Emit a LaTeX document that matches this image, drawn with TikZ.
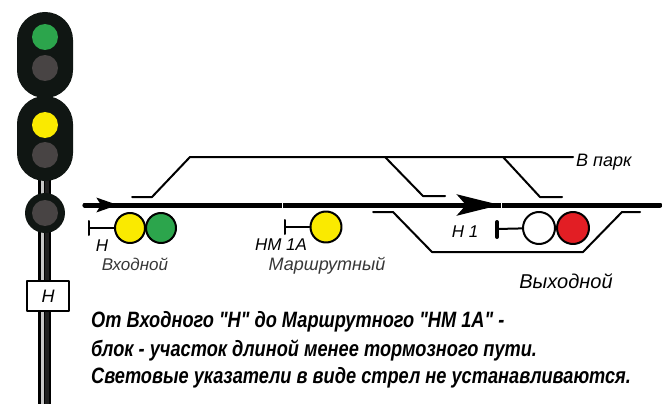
\documentclass[tikz,border=0pt]{standalone}
\usepackage{fontspec}
\setmainfont{Liberation Sans}
\newfontfamily\narrowfont[FakeStretch=0.82]{Liberation Sans}
\usepackage{tikz}
\usetikzlibrary{arrows,arrows.meta}
\definecolor{headblack}{RGB}{16,22,19}
\definecolor{lampoff}{RGB}{72,68,68}
\definecolor{lampgreen}{RGB}{44,165,76}
\definecolor{lampyellow}{RGB}{250,234,0}
\definecolor{lampred}{RGB}{226,30,36}
\definecolor{labelgray}{RGB}{55,55,55}
\tikzset{
  track/.style={line width=5pt},
  siding/.style={line width=2pt},
  lamp/.style={circle,draw=black,line width=2pt,minimum size=30pt,inner sep=0pt},
  mastlamp/.style={circle,fill=lampoff,minimum size=26pt,inner sep=0pt},
  lbl/.style={font=\itshape\fontsize{17}{17}\selectfont,inner sep=0pt},
  note/.style={anchor=west,inner sep=0pt,font=\narrowfont\bfseries\itshape\fontsize{22.2}{22}\selectfont}
}

\begin{document}
\begin{tikzpicture}[line cap=round,line join=round,>=triangle 45,x=1pt,y=-1pt]
\useasboundingbox (0,0) rectangle (662,404);
\fill[black] (38,175) rectangle (51,404);
\fill[gray!45] (40.5,175) rectangle (44,404);
\fill[gray!25!black] (45,175) rectangle (49,404);
\fill[headblack,rounded corners=27.9pt] (17,12) rectangle (73,98);
\fill[headblack,rounded corners=27.9pt] (17,96) rectangle (73,181);
\node[mastlamp,fill=lampgreen] (mg) at (45,37) {};
\node[mastlamp] (mo1) at (45,68) {};
\node[mastlamp,fill=lampyellow] (my) at (45,125) {};
\node[mastlamp] (mo2) at (45,155) {};
\node[circle,fill=headblack,minimum size=40pt,inner sep=0pt] (mhead) at (45,213) {};
\node[mastlamp] (mo3) at (45,213) {};
\node[draw,line width=2.5pt,fill=white,minimum width=42pt,minimum height=30pt,inner sep=0pt,font=\itshape\fontsize{18}{18}\selectfont] (plate) at (48,296) {Н};
\draw[siding] (132,197) -- (152,197) -- (190,157) -- (573,157);
\node[lbl,anchor=west,font=\itshape\fontsize{18}{18}\selectfont] (park) at (576,162) {В парк};
\draw[siding] (385,157) -- (423,196) -- (445,196);
\draw[siding] (503,157) -- (540,197) -- (562,197);
\draw[siding] (373,212) -- (393,212) -- (432,252) -- (583,252) -- (622,212) -- (640,212);
\draw[track] (85,205) -- (660,205);
\draw[track,-{Stealth[length=21pt,width=14pt,inset=4pt]}] (85,205) -- (118,205);
\draw[track,-{Stealth[length=43pt,width=21pt,inset=9pt]}] (440,205) -- (500,205);
\draw[white,line width=1pt,line cap=butt] (282,201) -- (282,209);
\draw[white,line width=1pt,line cap=butt] (501,201) -- (501,209);
\node[lamp,fill=lampyellow] (vh1) at (130,228) {};
\node[lamp,fill=lampgreen] (vh2) at (161,228) {};
\coordinate (vhbar) at (89,228);
\draw[line width=2pt] (89,221) -- (89,235);
\draw[line width=2pt] (vhbar) -- (vh1);
\node[lbl] (vhname) at (102,246) {Н};
\node[lbl,text=labelgray] (vhtype) at (135,264) {Входной};
\node[lamp,fill=lampyellow,minimum size=31pt] (nm1) at (326,227) {};
\coordinate (nmbar) at (285,227);
\draw[line width=2pt] (285,220) -- (285,234);
\draw[line width=2pt] (nmbar) -- (nm1);
\node[lbl] (nmname) at (281,245) {НМ 1А};
\node[lbl,text=labelgray,font=\itshape\fontsize{18}{18}\selectfont] (nmtype) at (327,266) {Маршрутный};
\node[lamp,fill=white,minimum size=32pt] (vx1) at (539,228) {};
\node[lamp,fill=lampred,minimum size=32pt] (vx2) at (573,228) {};
\coordinate (vxbar) at (497,229);
\draw[line width=4pt] (497,222) -- (497,237);
\draw[line width=2pt] (vxbar) -- (vx1);
\node[lbl] (vxname) at (465,232) {Н 1};
\node[lbl,font=\itshape\fontsize{20}{20}\selectfont] (vxtype) at (566,281) {Выходной};
\node[note] (note1) at (91,322) {От Входного "Н" до Маршрутного "НМ 1А" -};
\node[note] (note2) at (91,350) {блок - участок длиной менее тормозного пути.};
\node[note] (note3) at (91,378) {Световые указатели в виде стрел не устанавливаются.};
\end{tikzpicture}
\end{document}
